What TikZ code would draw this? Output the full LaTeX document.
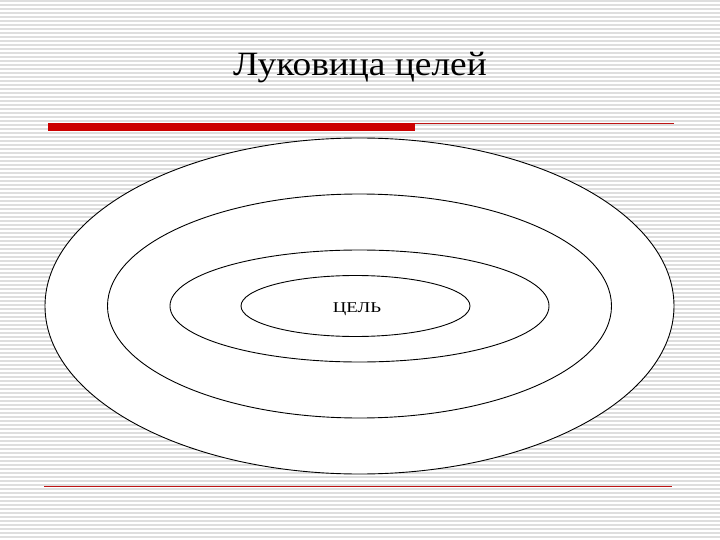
\documentclass[tikz,border=0pt]{standalone}
\usepackage{fontspec}
\setmainfont{Liberation Serif}
\begin{document}
\begin{tikzpicture}[x=1pt,y=-1pt,
  stripe/.style={draw={rgb,255:red,222;green,222;blue,222},line width=1.6pt},
  ring/.style={draw=black,line width=0.9pt,fill=white},
  redbar/.style={fill={rgb,255:red,204;green,0;blue,0}},
  redline/.style={draw={rgb,255:red,190;green,20;blue,20},line width=0.9pt}]
\useasboundingbox (0,0) rectangle (720,540);
\fill[white] (0,0) rectangle (720,540);
\foreach \i in {0,...,134} {\draw[stripe] (0,\i*4+1) -- (720,\i*4+1);}
\node[font=\fontsize{34}{40}\selectfont,anchor=base,xscale=1.1] (title) at (360,76) {Луковица целей};
\fill[redbar] (48,123) rectangle (415,131.5);
\coordinate (ra) at (415,123.5);
\coordinate (rb) at (674,123.5);
\draw[redline] (ra) -- (rb);
\draw[ring] (359.5,306) ellipse [x radius=314.5, y radius=168];
\draw[ring] (359.5,306) ellipse [x radius=252, y radius=112];
\draw[ring] (359.5,306) ellipse [x radius=189.5, y radius=56];
\draw[ring] (355.5,306) ellipse [x radius=114.5, y radius=30.5];
\node[font=\fontsize{15}{17}\selectfont,anchor=base,xscale=1.25] (goal) at (357,312) {ЦЕЛЬ};
\coordinate (ba) at (44,486.5);
\coordinate (bb) at (672,486.5);
\draw[redline] (ba) -- (bb);
\end{tikzpicture}
\end{document}
